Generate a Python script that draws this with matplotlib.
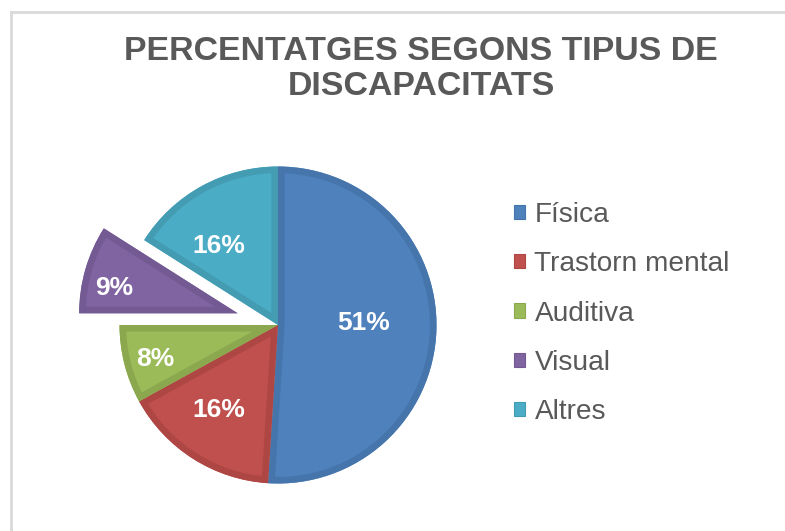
import matplotlib
matplotlib.use("Agg")
import matplotlib.pyplot as plt
from matplotlib.patches import Patch, Wedge
from matplotlib.lines import Line2D
import numpy as np

categories = ["Física", "Trastorn mental", "Auditiva", "Visual", "Altres"]
values = [51, 16, 8, 9, 16]
explode_flags = [0, 0, 0, 1, 0]
title = "PERCENTATGES SEGONS TIPUS DE\nDISCAPACITATS"

fills = ["#4F81BD", "#C0504D", "#9BBB59", "#8064A2", "#4BACC6"]
edges = ["#4675AC", "#AE4744", "#8BA84F", "#735A93", "#449CB3"]

W, H = 785, 531
fig = plt.figure(figsize=(W / 100, H / 100), dpi=100)
ax = fig.add_axes([0, 0, 1, 1])

R = 158.5
cx, cy = 278, H - 325
wedges, texts = ax.pie(
    values,
    explode=[e * 42 for e in explode_flags],
    colors=fills,
    startangle=90,
    counterclock=False,
    center=(cx, cy),
    radius=R,
    wedgeprops=dict(linewidth=0),
    frame=False,
)
# inset darker border on each slice
band_pt = 9.5
for w, ec in zip(wedges, edges):
    b = Wedge(w.center, w.r, w.theta1, w.theta2, facecolor="none",
              edgecolor=ec, linewidth=band_pt, joinstyle="miter")
    ax.add_patch(b)
    b.set_clip_path(w)

ax.set_xlim(0, W)
ax.set_ylim(0, H)
ax.set_aspect("equal")
ax.axis("off")

# chart border (top and left visible)
ax.add_line(Line2D([10.5, W], [H - 12, H - 12], color="#D9D9D9", lw=2))
ax.add_line(Line2D([10.5, 10.5], [0, H - 12], color="#D9D9D9", lw=2))

# label placement style: (fraction of radius, angle offset from slice middle)
label_dist = [0.543, 0.653, 0.805, 0.797, 0.622]
label_dang = [3.1, -2.4, 1.1, 4.6, 8.0]
total = sum(values)
for w, v, d, da in zip(wedges, values, label_dist, label_dang):
    th = np.deg2rad((w.theta1 + w.theta2) / 2 + da)
    x0, y0 = w.center
    ax.text(x0 + d * R * np.cos(th), y0 + d * R * np.sin(th),
            f"{round(100 * v / total)}%", color="white", fontsize=19,
            fontweight="bold", family="Liberation Sans",
            ha="center", va="center")

fig.text(421 / W, 1 - 69 / H, title, ha="center", va="center",
         fontsize=24.4, fontweight="bold", color="#595959",
         family="Liberation Sans", linespacing=1.14)

handles = [Patch(facecolor=f, edgecolor=e, lw=0.8) for f, e in zip(fills, edges)]
leg = fig.legend(handles, categories, loc="upper left",
                 bbox_to_anchor=(514 / W, 1 - 202 / H),
                 frameon=False, prop=dict(family="Liberation Sans", size=20.2),
                 handlelength=0.4, handleheight=0.4, handletextpad=0.33,
                 labelspacing=0.83, borderpad=0, borderaxespad=0)
for t in leg.get_texts():
    t.set_color("#595959")

fig.savefig("out.png", dpi=100)
